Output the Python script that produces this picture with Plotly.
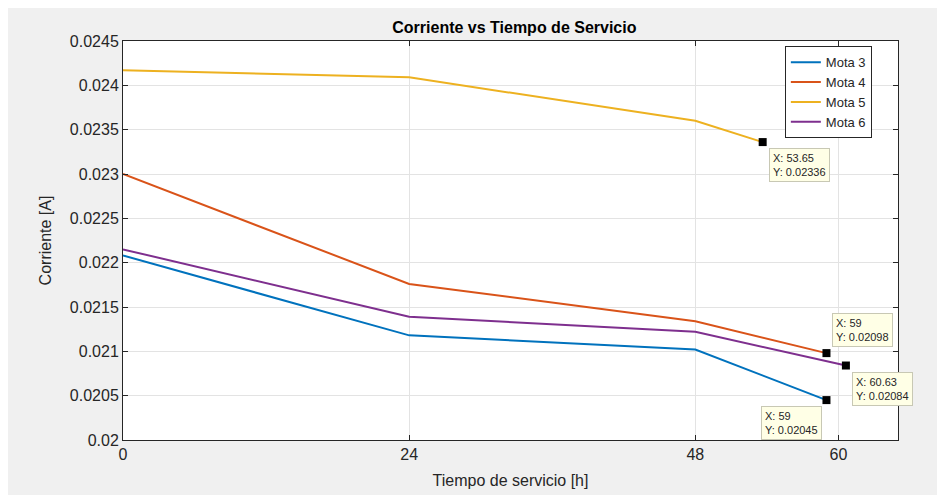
import plotly.graph_objects as go

# data
hours = [0, 24, 48]
mota3 = [0.02208, 0.02118, 0.02102, 0.02045]
mota4 = [0.02300, 0.02176, 0.02134, 0.02098]
mota5 = [0.02417, 0.02409, 0.02360, 0.02336]
mota6 = [0.02215, 0.02139, 0.02122, 0.02084]
last_x = {"Mota 3": 59, "Mota 4": 59, "Mota 5": 53.65, "Mota 6": 60.63}

x_ticks = [0, 24, 48, 60]
y_ticks = [0.02, 0.0205, 0.021, 0.0215, 0.022, 0.0225, 0.023, 0.0235, 0.024, 0.0245]
y_labels = ["0.02", "0.0205", "0.021", "0.0215", "0.022", "0.0225", "0.023", "0.0235", "0.024", "0.0245"]

COLORS = {"Mota 3": "#0072BD", "Mota 4": "#D95319", "Mota 5": "#EDB120", "Mota 6": "#7E2F8E"}
SERIES = {"Mota 3": mota3, "Mota 4": mota4, "Mota 5": mota5, "Mota 6": mota6}
FONT = "Liberation Sans, Arial, sans-serif"
INK = "#262626"

# datatip box placement relative to the marker (pixels)
TIP_POS = {
    "Mota 5": {"xanchor": "left", "yanchor": "top", "xshift": 6, "yshift": -6},
    "Mota 4": {"xanchor": "left", "yanchor": "bottom", "xshift": 6, "yshift": 6},
    "Mota 6": {"xanchor": "left", "yanchor": "top", "xshift": 6, "yshift": -6},
    "Mota 3": {"xanchor": "right", "yanchor": "top", "xshift": -4, "yshift": -6},
}

fig = go.Figure()
for name, values in SERIES.items():
    xs = hours + [last_x[name]]
    fig.add_trace(
        go.Scatter(
            x=xs,
            y=values,
            mode="lines",
            name=name,
            line={"color": COLORS[name], "width": 2},
        )
    )

for name, values in SERIES.items():
    fig.add_trace(
        go.Scatter(
            x=[last_x[name]],
            y=[values[-1]],
            mode="markers",
            marker={"symbol": "square", "size": 8, "color": "black"},
            showlegend=False,
            hoverinfo="skip",
        )
    )
    fig.add_annotation(
        x=last_x[name],
        y=values[-1],
        text=f"X: {last_x[name]:g}<br>Y: {values[-1]:.5f}",
        showarrow=False,
        align="left",
        bgcolor="#ffffe6",
        bordercolor="#c8c8b4",
        borderwidth=1,
        borderpad=3,
        font={"family": FONT, "size": 11, "color": INK},
        **TIP_POS[name],
    )

axis_common = {
    "showline": True,
    "linecolor": INK,
    "linewidth": 1,
    "mirror": "ticks",
    "ticks": "inside",
    "ticklen": 5,
    "tickcolor": INK,
    "showgrid": True,
    "gridcolor": "#e3e3e3",
    "zeroline": False,
    "tickfont": {"family": FONT, "size": 16, "color": INK},
}

fig.update_layout(
    width=945,
    height=495,
    paper_bgcolor="#f0f0f0",
    plot_bgcolor="white",
    margin={"l": 115, "r": 55, "t": 33, "b": 63},
    font={"family": FONT, "color": INK},
    title={
        "text": "<b>Corriente vs Tiempo de Servicio</b>",
        "x": 0.505,
        "xref": "paper",
        "y": 1 - 19 / 495,
        "yanchor": "middle",
        "font": {"family": FONT, "size": 16, "color": "black"},
    },
    xaxis={
        **axis_common,
        "range": [0, 65],
        "tickvals": x_ticks,
        "title": {"text": "Tiempo de servicio [h]", "font": {"family": FONT, "size": 16, "color": INK}, "standoff": 12},
    },
    yaxis={
        **axis_common,
        "range": [0.02, 0.0245],
        "tickvals": y_ticks,
        "ticktext": y_labels,
        "title": {"text": "Corriente [A]", "font": {"family": FONT, "size": 16, "color": INK}, "standoff": 14},
    },
    legend={
        "x": 0.854,
        "y": 0.987,
        "xanchor": "left",
        "yanchor": "top",
        "bgcolor": "white",
        "bordercolor": INK,
        "borderwidth": 1,
        "font": {"family": FONT, "size": 13, "color": INK},
        "tracegroupgap": 0,
        "itemwidth": 30,
    },
    showlegend=True,
)

fig.write_html("out.html")
